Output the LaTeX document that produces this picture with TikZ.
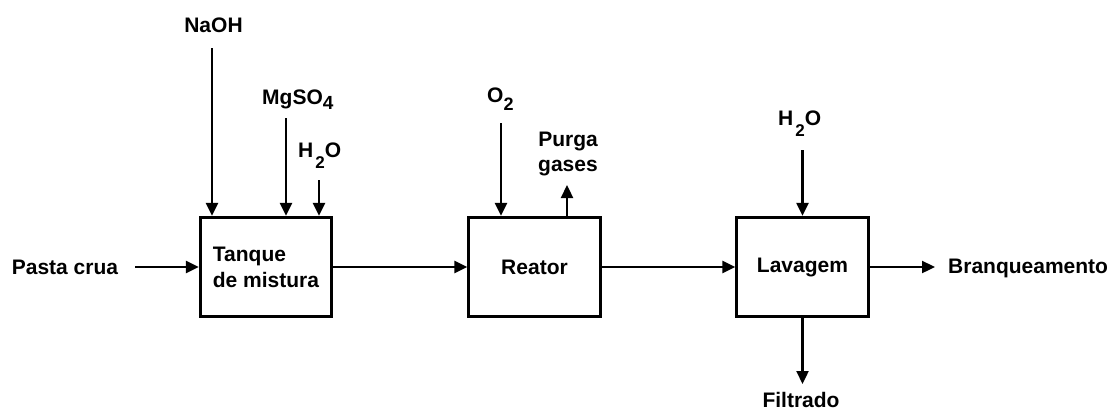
\documentclass[tikz,border=0pt]{standalone}
\usepackage{fontspec}
\setmainfont{Liberation Sans}
\usetikzlibrary{arrows.meta}
\newcommand\lsub[3]{\raisebox{-#1pt}{\fontsize{#2}{#2}\selectfont #3}}
\begin{document}
\begin{tikzpicture}[x=1pt,y=-1pt,
  every node/.style={font=\fontsize{21}{26}\selectfont\bfseries, inner sep=0pt},
  unit/.style={draw, line width=2.8pt, minimum width=131.5pt, minimum height=99.5pt, align=left},
  flow/.style={line width=2.3pt, -{Triangle[length=13pt,width=12pt]}}]
\useasboundingbox (0,0) rectangle (1115,410);
% units
\node[unit] (tank) at (266,267) {Tanque\\de mistura};
\node[unit] (reac) at (534.5,267) {Reator};
\node[unit] (wash) at (802.5,267) {Lavagem};
% labels
\node (pasta) at (65,267) {Pasta crua};
\node (naoh) at (213.5,25) {NaOH};
\node[anchor=base west] (mgso) at (262,104) {MgSO\lsub{5}{19}{4}};
\node[anchor=base west] (water1) at (298,157) {H\kern2pt\lsub{11}{17}{2}O};
\node[anchor=base west] (oxy) at (487,102) {O\lsub{8}{18}{2}};
\node[align=center, font=\fontsize{21}{25}\selectfont\bfseries] (purga) at (568,154) {Purga\\gases};
\node[anchor=base west] (water2) at (778,125) {H\kern2pt\lsub{11}{17}{2}O};
\node[anchor=west] (bran) at (948,268) {Branqueamento};
\node[anchor=north] (filt) at (801,392) {Filtrado};
% connector end points
\coordinate (pastaout) at (135,267);
\coordinate (naohin) at (212,48);
\coordinate (mgsoin) at (286,118);
\coordinate (water1in) at (319,180);
\coordinate (oxyin) at (501,123);
\coordinate (purgaout) at (567,185);
\coordinate (water2in) at (802.5,150);
\coordinate (filtout) at (802.5,384);
\coordinate (branout) at (935,267);
% connectors
\draw[flow] (pastaout) -- (tank.west);
\draw[flow] (naohin) -- (naohin |- tank.north);
\draw[flow] (mgsoin) -- (mgsoin |- tank.north);
\draw[flow] (water1in) -- (water1in |- tank.north);
\draw[flow] (tank.east) -- (reac.west);
\draw[flow] (oxyin) -- (oxyin |- reac.north);
\draw[flow] (purgaout |- reac.north) -- (purgaout);
\draw[flow] (reac.east) -- (wash.west);
\draw[flow] (water2in) -- (water2in |- wash.north);
\draw[flow] (wash.east) -- (branout);
\draw[flow] (wash.south) -- (wash.south |- filtout);
\end{tikzpicture}
\end{document}
